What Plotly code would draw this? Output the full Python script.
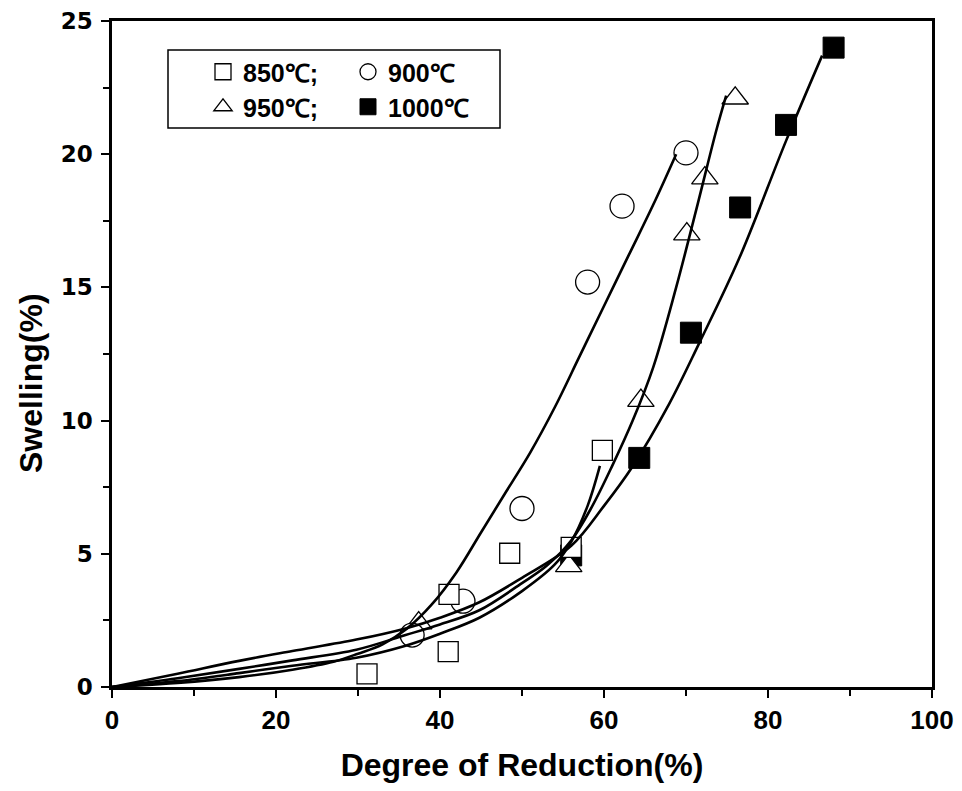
import plotly.graph_objects as go

# Measured points
x850 = [31.1, 41.0, 41.1, 48.5, 56.0, 59.8]
y850 = [0.49, 1.33, 3.48, 5.02, 5.24, 8.88]
x900 = [36.6, 42.8, 50.0, 58.0, 62.2, 70.0]
y900 = [1.95, 3.22, 6.7, 15.2, 18.05, 20.05]
x950 = [37.4, 55.7, 64.5, 70.1, 72.3, 76.0]
y950 = [2.4, 4.55, 10.75, 17.0, 19.1, 22.1]
x1000 = [56.0, 64.3, 70.6, 76.6, 82.2, 88.0]
y1000 = [4.94, 8.6, 13.3, 18.0, 21.1, 24.0]

# Fitted curves
cx850 = [0, 8, 15.5, 22, 29.8, 35.8, 40, 44.8, 50, 54, 56, 58, 59.5]
cy850 = [0, 0.22, 0.52, 0.8, 1.1, 1.55, 2.0, 2.6, 3.6, 4.6, 5.45, 6.8, 8.3]
cx900 = [0, 8, 15.5, 22, 27, 30, 33, 36, 39, 42, 45, 48, 51, 54, 57, 60, 63, 66, 68.8]
cy900 = [0, 0.15, 0.37, 0.65, 0.95, 1.25, 1.6, 2.2, 3.1, 4.3, 5.8, 7.3, 8.8, 10.5, 12.4, 14.3, 16.2, 18.1, 20.0]
cx950 = [0, 8, 15.5, 22, 29.8, 35.8, 40, 44.8, 50, 53, 56, 58.5, 61, 63.5, 66, 68.8, 71.4, 73.7, 74.9]
cy950 = [0, 0.33, 0.68, 1.0, 1.4, 1.95, 2.35, 2.88, 3.9, 4.55, 5.5, 6.75, 8.3, 10.0, 12.0, 15.0, 18.1, 20.9, 22.2]
cx1000 = [0, 8, 15.5, 22, 29.8, 35.8, 40, 44.8, 50, 56, 60, 63.4, 67.9, 71.6, 76.5, 82.2, 86.6]
cy1000 = [0, 0.5, 0.98, 1.35, 1.78, 2.2, 2.6, 3.18, 4.1, 5.3, 6.8, 8.24, 10.6, 12.9, 16.1, 20.5, 23.7]

labels = ["850℃;", "900℃", "950℃;", "1000℃"]
x_ticks = [0, 20, 40, 60, 80, 100]
y_ticks = [0, 5, 10, 15, 20, 25]

FONT = "Liberation Sans"
fig = go.Figure()

mk_line = dict(color="black", width=1.3)
fig.add_trace(go.Scatter(x=x1000, y=y1000, mode="markers", name=labels[3], legend="legend2",
                         marker=dict(symbol="square", size=21, color="black", line=dict(color="black", width=1))))
fig.add_trace(go.Scatter(x=x950, y=y950, mode="markers", name=labels[2], legend="legend2",
                         marker=dict(symbol="triangle-up", size=23, color="white", line=mk_line)))
fig.add_trace(go.Scatter(x=x900, y=y900, mode="markers", name=labels[1], legend="legend",
                         marker=dict(symbol="circle", size=24, color="white", line=mk_line)))
fig.add_trace(go.Scatter(x=x850, y=y850, mode="markers", name=labels[0], legend="legend",
                         marker=dict(symbol="square", size=20, color="white", line=mk_line)))

for cx, cy in [(cx850, cy850), (cx900, cy900), (cx950, cy950), (cx1000, cy1000)]:
    fig.add_trace(go.Scatter(x=cx, y=cy, mode="lines", showlegend=False, hoverinfo="skip",
                             line=dict(color="black", width=2.6, shape="spline", smoothing=1)))

# page body has an 8px margin: plot area spans px 112..932 x 21..687 of the window
W, H = 946, 775
L, T = 104, 13
R = W - L - 820
B = H - T - 666

def px_x(p):
    return (p - 112) / 820

def px_y(p):
    return (687 - p) / 666

legend_font = dict(family=FONT, size=25, color="black", weight="bold")
leg_common = dict(orientation="h", xanchor="left", yanchor="middle", entrywidth=100,
                  bgcolor="rgba(0,0,0,0)", borderwidth=0, font=legend_font,
                  traceorder="reversed", itemclick=False)

fig.update_layout(
    width=W, height=H,
    margin=dict(l=L, r=R, t=T, b=B),
    paper_bgcolor="white", plot_bgcolor="white",
    legend=dict(x=px_x(203), y=px_y(72), **leg_common),
    legend2=dict(x=px_x(203), y=px_y(107), **leg_common),
    shapes=[dict(type="rect", xref="paper", yref="paper",
                 x0=px_x(168), x1=px_x(500), y0=px_y(128), y1=px_y(50),
                 line=dict(color="black", width=1.5), fillcolor="rgba(0,0,0,0)")],
    annotations=[dict(text="Swelling(%)", xref="paper", yref="paper",
                      x=px_x(31), y=px_y(383), xanchor="center", yanchor="middle",
                      textangle=-90, showarrow=False,
                      font=dict(family=FONT, size=32, color="black", weight="bold"))],
)

axis_common = dict(showgrid=False, zeroline=False, showline=True, linecolor="black", linewidth=2.5,
                   mirror=True, ticks="outside", ticklen=8, tickwidth=2, tickcolor="black",
                   automargin=False, ticklabeloverflow="allow")
fig.update_xaxes(range=[0, 100], tickvals=x_ticks,
                 minor=dict(dtick=10, ticks="outside", ticklen=6, tickwidth=2, tickcolor="black"),
                 tickfont=dict(family=FONT, size=26, color="black", weight="bold"),
                 title=dict(text="Degree of Reduction(%)", standoff=28,
                            font=dict(family=FONT, size=32, color="black", weight="bold")),
                 **axis_common)
fig.update_yaxes(range=[0, 25], tickvals=y_ticks,
                 minor=dict(dtick=2.5, ticks="outside", ticklen=6, tickwidth=2, tickcolor="black"),
                 tickfont=dict(family="DejaVu Sans", size=23, color="black", weight="bold"),
                 ticklabelstandoff=4,
                 **axis_common)

fig.write_html("out.html")
